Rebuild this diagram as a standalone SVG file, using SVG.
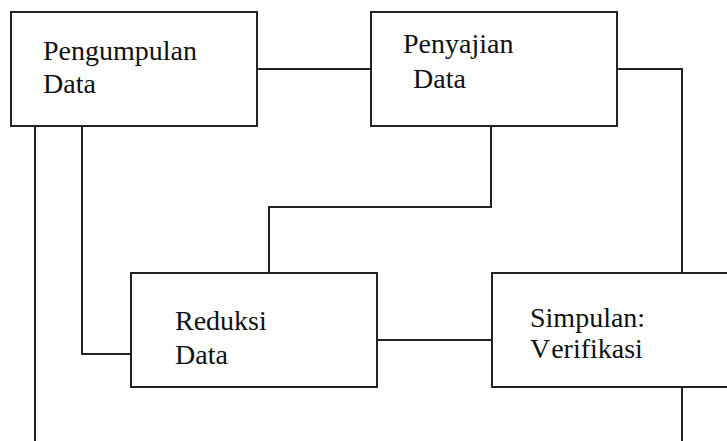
<svg xmlns="http://www.w3.org/2000/svg" width="727" height="441" viewBox="0 0 727 441">
<style>
.box{fill:#fff;stroke:#222;stroke-width:2}
.ln{fill:none;stroke:#222;stroke-width:2}
</style>
<rect width="727" height="441" fill="#fff"/>
<g id="connectors">
<path class="ln" d="M257 69H371"/>
<path class="ln" d="M617 69H682V273"/>
<path class="ln" d="M491 126V207H269V273"/>
<path class="ln" d="M35 126V441"/>
<path class="ln" d="M82 126V354H131"/>
<path class="ln" d="M377 340H492"/>
<path class="ln" d="M682 387V441"/>
</g>
<g font-family="Liberation Serif, Times New Roman, serif" font-size="28" fill="#111">
<g id="pengumpulan">
<rect class="box" x="11" y="12" width="246" height="114"/>
<text x="43" y="60">Pengumpulan</text>
<text x="43" y="93">Data</text>
</g>
<g id="penyajian">
<rect class="box" x="371" y="12" width="246" height="114"/>
<text x="403" y="53">Penyajian</text>
<text x="413" y="88">Data</text>
</g>
<g id="reduksi">
<rect class="box" x="131" y="273" width="246" height="114"/>
<text x="175" y="330">Reduksi</text>
<text x="175" y="364">Data</text>
</g>
<g id="simpulan">
<rect class="box" x="492" y="273" width="246" height="114"/>
<text x="530" y="327">Simpulan:</text>
<text x="530" y="358">V<tspan dx="4">erifikasi</tspan></text>
</g>
</g>
</svg>
